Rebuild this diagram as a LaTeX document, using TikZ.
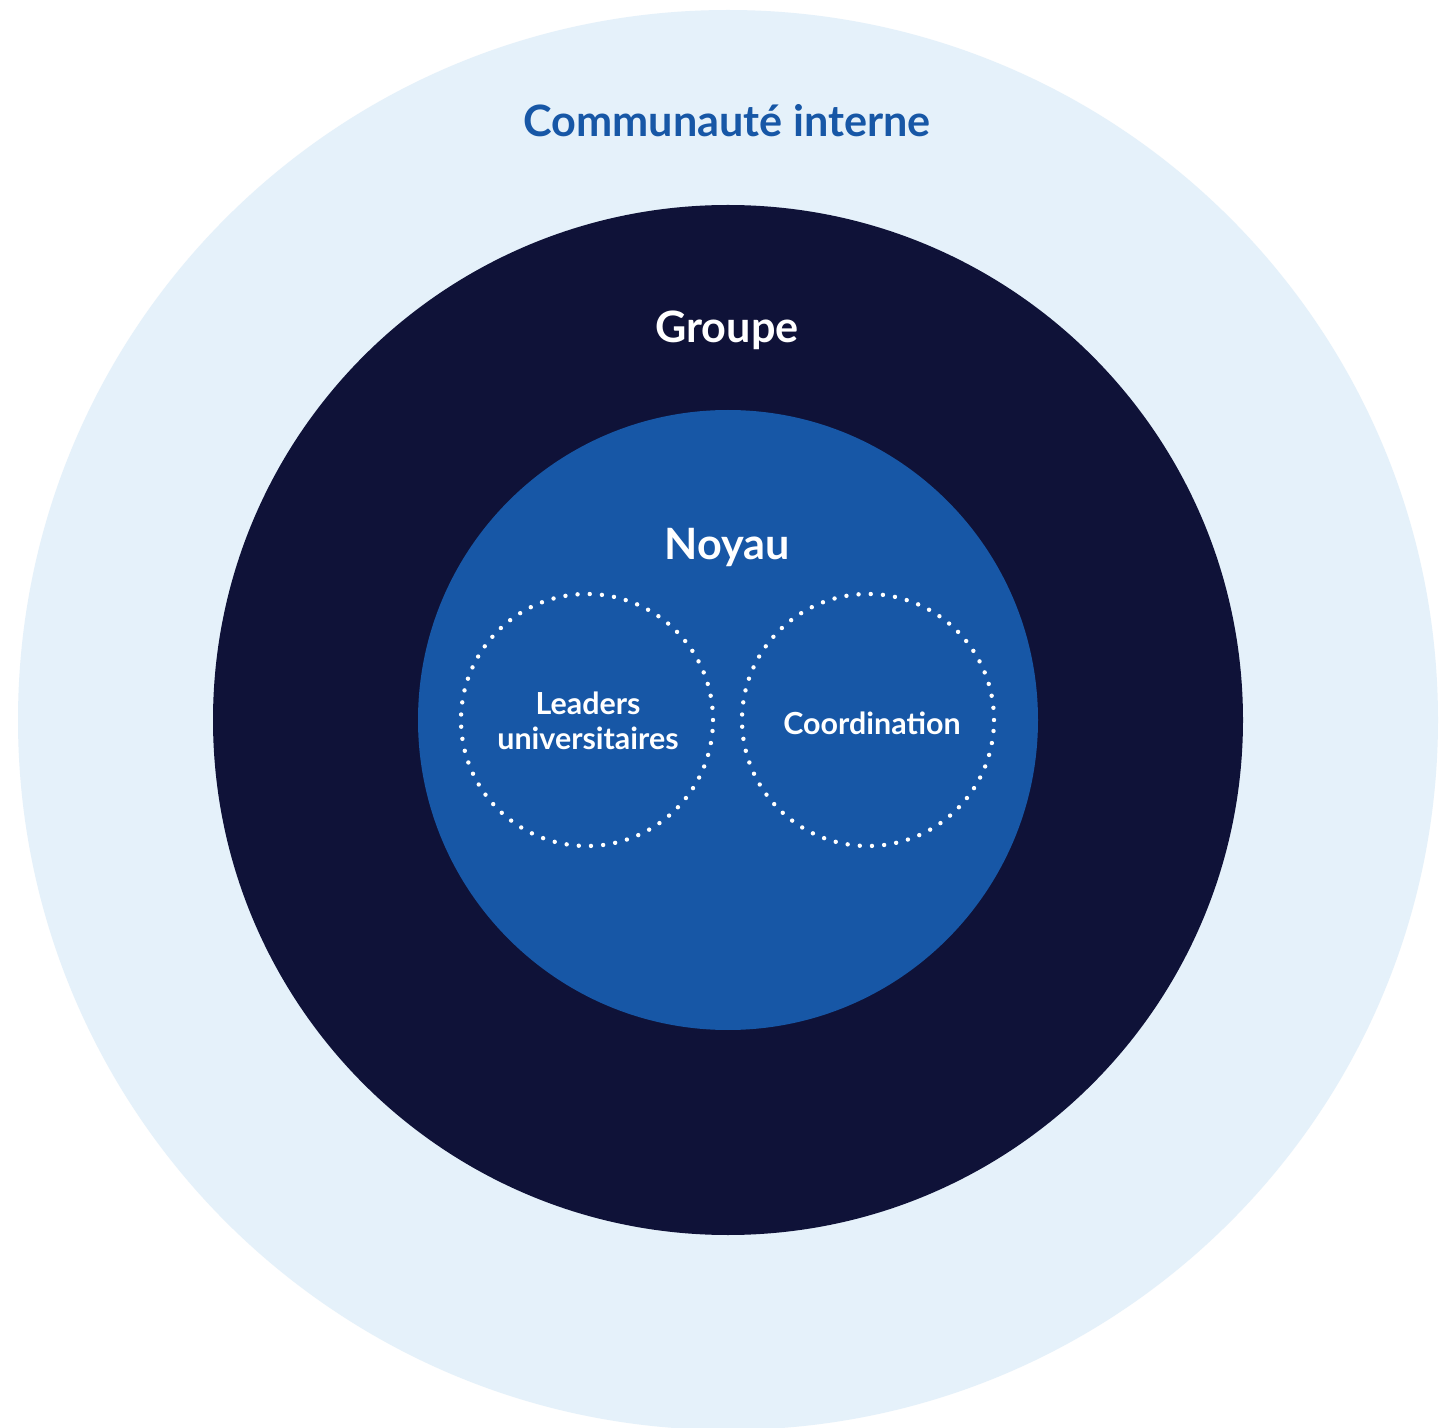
\documentclass[tikz,border=0pt]{standalone}
\usepackage{fontspec}
\setmainfont{Lato}
\definecolor{lightbg}{HTML}{E5F1FA}
\definecolor{navy}{HTML}{0F1238}
\definecolor{coreblue}{HTML}{1757A6}
\begin{document}
\begin{tikzpicture}[x=0.5pt,y=-0.5pt,
  ring/.style={circle, inner sep=0pt, minimum size=#1},
  dotring/.style={circle, inner sep=0pt, minimum size=252*0.5pt, draw=white, line width=2.2pt, line cap=round, dash pattern=on 0pt off 6.1pt},
  bigtitle/.style={font=\bfseries\fontsize{21.6}{25}\selectfont},
  smalltitle/.style={font=\bfseries\fontsize{15.2}{17.2}\selectfont, text=white, align=center}]
\useasboundingbox (0,0) rectangle (1453,1428);
\fill[white] (0,0) rectangle (1453,1428);
\node[ring=710pt, fill=lightbg] (outer) at (728,720) {};
\node[ring=515pt, fill=navy] (group) at (728,720) {};
\node[ring=310pt, fill=coreblue] (core) at (728,720) {};
\node[dotring] (lead) at (587,720) {};
\node[dotring] (coord) at (868,720) {};
\node[bigtitle, text=coreblue] (t1) at (727,121) {Communauté interne};
\node[bigtitle, text=white] (t2) at (727,330) {Groupe};
\node[bigtitle, text=white] (t3) at (727,548) {Noyau};
\node[smalltitle] (t4) at (588,721) {Leaders\\universitaires};
\node[smalltitle] (t5) at (872,723) {Coordination};
\end{tikzpicture}
\end{document}
